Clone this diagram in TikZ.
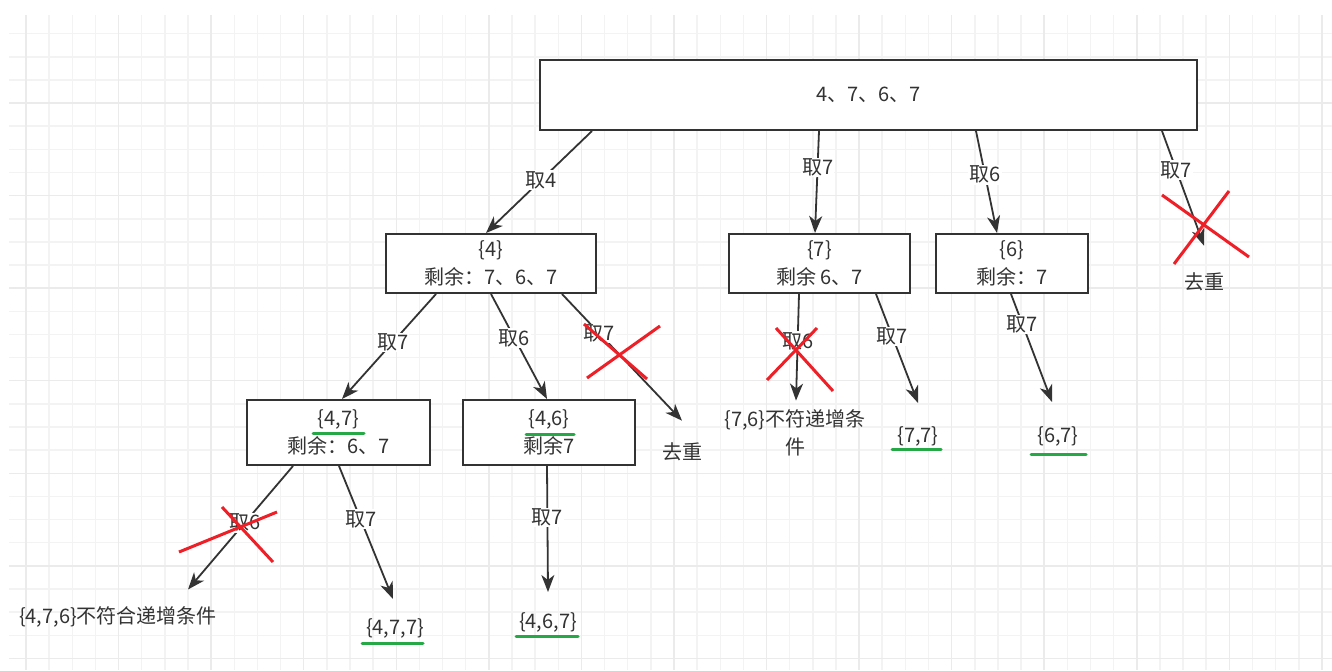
\documentclass[tikz,border=0pt]{standalone}
\usepackage{fontspec}
\setmainfont{Noto Sans CJK SC}
\usepackage{xcolor}
\usetikzlibrary{arrows.meta}
\definecolor{ink}{HTML}{333333}
\definecolor{crossred}{HTML}{EE1F27}
\definecolor{okgreen}{HTML}{26A846}
\definecolor{gridminor}{HTML}{F3F3F3}
\definecolor{gridmajor}{HTML}{EBEBEB}

\begin{document}
\begin{tikzpicture}[x=1pt,y=-1pt,>={Stealth[length=17pt,width=13pt,inset=5pt]},
  every node/.style={font=\fontsize{20}{28}\selectfont,text=ink},
  box/.style={draw=ink,fill=white,line width=2pt,rectangle,align=center,inner sep=0pt},
  lbl/.style={fill=white,inner sep=1pt},
  leaf/.style={align=center,inner sep=1pt},
  arr/.style={->,draw=ink,line width=1.8pt},
  cross/.style={draw=crossred,line width=3pt},
  okline/.style={draw=okgreen,line width=3pt,line cap=round}]
  % canvas and grid
  \fill[white] (0,0) rectangle (1332,670);
  \useasboundingbox (0,0) rectangle (1332,670);
  \foreach \i in {1,...,57}
    \draw[gridminor,line width=1.5pt] ({2.9+23.14*\i},15) -- ({2.9+23.14*\i},670);
  \foreach \j in {1,...,28}
    \draw[gridminor,line width=1.5pt] (9,{10.5+23.14*\j}) -- (1332,{10.5+23.14*\j});
  \foreach \i in {1,5,...,57}
    \draw[gridmajor,line width=1.5pt] ({2.9+23.14*\i},15) -- ({2.9+23.14*\i},670);
  \foreach \j in {4,8,...,28}
    \draw[gridmajor,line width=1.5pt] (9,{10.5+23.14*\j}) -- (1332,{10.5+23.14*\j});

  % boxes
  \node[box,minimum width=657pt,minimum height=70pt] (root) at (868.5,95) {4、7、6、7};
  \node[box,minimum width=210pt,minimum height=59pt] (n4) at (491,263.5) {\{4\}\\剩余：7、6、7};
  \node[box,minimum width=181pt,minimum height=59pt] (n7) at (819.5,263.5) {\{7\}\\剩余 6、7};
  \node[box,minimum width=152pt,minimum height=59pt] (n6) at (1012,263.5) {\{6\}\\剩余：7};
  \node[box,minimum width=183pt,minimum height=65pt] (n47) at (338.5,432.5) {\{4,7\}\\剩余：6、7};
  \node[box,minimum width=172pt,minimum height=65pt] (n46) at (549,432.5) {\{4,6\}\\剩余7};

  % leaves
  \node[leaf] (dup1) at (1204,282) {去重};
  \node[leaf] (dup2) at (682,452) {去重};
  \node[leaf] (leaf76) at (795,433) {\{7,6\}不符递增条\\件};
  \node[leaf] (leaf77) at (918,436) {\{7,7\}};
  \node[leaf] (leaf67) at (1058,436) {\{6,7\}};
  \node[leaf] (leaf476) at (118,617) {\{4,7,6\}不符合递增条件};
  \node[leaf] (leaf477) at (395,628) {\{4,7,7\}};
  \node[leaf] (leaf467) at (548,622) {\{4,6,7\}};

  % edges
  \draw[arr] ([xshift=53pt]root.south west) -- node[lbl,pos=0.48] {取4} ([xshift=101pt]n4.north west);
  \draw[arr] ([xshift=280pt]root.south west) -- node[lbl,pos=0.36] {取7} ([xshift=87pt]n7.north west);
  \draw[arr] ([xshift=437pt]root.south west) -- node[lbl,pos=0.43] {取6} ([xshift=62pt]n6.north west);
  \draw[arr] ([xshift=623pt]root.south west) -- node[lbl,pos=0.34] {取7} ([yshift=26pt]dup1.north);

  \draw[arr] ([xshift=51pt]n4.south west) -- node[lbl,pos=0.46] {取7} ([xshift=96pt]n47.north west);
  \draw[arr] ([xshift=106pt]n4.south west) -- node[lbl,pos=0.42] {取6} ([xshift=85pt]n46.north west);
  \draw[arr] ([xshift=177pt]n4.south west) -- node[lbl,pos=0.31] {取7} ([yshift=21pt]dup2.north);

  \draw[arr] ([xshift=71pt]n7.south west) -- node[lbl,pos=0.44] {取6} ([xshift=1pt,yshift=8pt]leaf76.north);
  \draw[arr] ([xshift=148pt]n7.south west) -- node[lbl,pos=0.39] {取7} ([yshift=22pt]leaf77.north);
  \draw[arr] ([xshift=76pt]n6.south west) -- node[lbl,pos=0.28] {取7} ([xshift=-6pt,yshift=23pt]leaf67.north);

  \draw[arr] ([xshift=47pt]n47.south west) -- node[lbl,pos=0.46] {取6} ([xshift=70pt,yshift=16pt]leaf476.north);
  \draw[arr] ([xshift=93pt]n47.south west) -- node[lbl,pos=0.4] {取7} ([xshift=-2pt,yshift=18pt]leaf477.north);
  \draw[arr] ([xshift=85pt]n46.south west) -- node[lbl,pos=0.41] {取7} ([yshift=19pt]leaf467.north);

  % green marks for kept results
  \draw[okline] (313,433) -- (364,433);
  \draw[okline] (526,434) -- (574,434);
  \draw[okline] (892,449) -- (941,449);
  \draw[okline] (1031,454) -- (1086,454);
  \draw[okline] (362,643) -- (423,643);
  \draw[okline] (516,636) -- (578,636);

  % red crosses for pruned branches
  \draw[cross] (584,324) -- (647,379) (660,326) -- (587,378);
  \draw[cross] (1162,195) -- (1249,257) (1229,191) -- (1174,264);
  \draw[cross] (776,328) -- (833,391) (817,328) -- (767,380);
  \draw[cross] (179,552) -- (277,512) (222,507) -- (273,562);
\end{tikzpicture}
\end{document}
